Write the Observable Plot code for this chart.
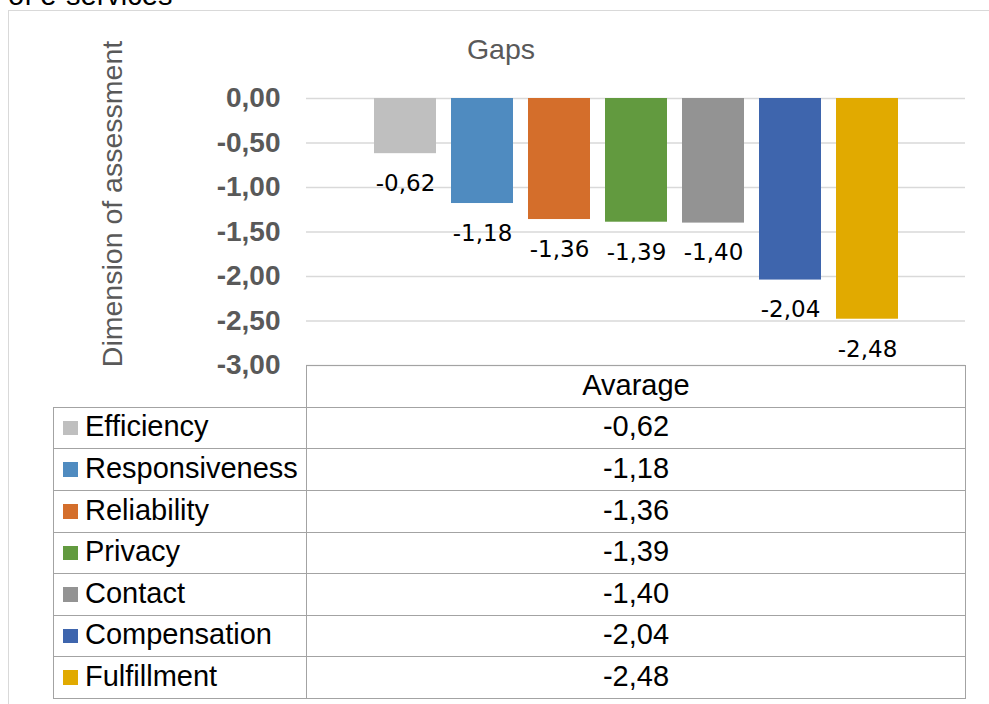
<!DOCTYPE html>
<html><head><meta charset="utf-8">
<script src="https://cdn.jsdelivr.net/npm/d3@7"></script>
<script src="https://cdn.jsdelivr.net/npm/@observablehq/plot@0.6"></script>
<style>
body{margin:0;background:#fff;font-family:"Liberation Sans",Arial,sans-serif;}
#wrap{position:relative;width:989px;height:704px;overflow:hidden;background:#fff;}
#cut{position:absolute;left:8px;top:-19px;font-size:29px;line-height:28px;color:#000;white-space:nowrap;}
#frame{position:absolute;left:8px;top:10px;width:1000px;height:720px;border-left:1.3px solid #d9d9d9;border-top:1.3px solid #d9d9d9;box-sizing:border-box;}
#chart{position:absolute;left:0;top:0;}
#title{position:absolute;left:501px;top:49px;transform:translate(-50%,-50%);font-size:28.5px;line-height:28px;color:#595959;white-space:nowrap;}
#ylab{position:absolute;left:112.3px;top:204px;transform:translate(-50%,-50%) rotate(-90deg);font-size:28.5px;line-height:28px;color:#595959;white-space:nowrap;}
.cell{position:absolute;box-sizing:border-box;border:1px solid #a3a3a3;display:flex;align-items:center;font-size:29px;color:#000;white-space:nowrap;}
.cell span{position:relative;top:-1.5px;}
.val{justify-content:center;}
.sw{position:absolute;left:9px;width:14.7px;height:14.7px;top:50%;margin-top:-7.35px;}
.lab{position:absolute;left:31px;}
</style></head>
<body>
<div id="wrap">
  <div id="cut">of e-services</div>
  <div id="frame"></div>
  <div id="chart"></div>
  <div id="title"></div>
  <div id="ylab"></div>
</div>
<script>
const categories = ["Efficiency","Responsiveness","Reliability","Privacy","Contact","Compensation","Fulfillment"];
const values = [-0.62,-1.18,-1.36,-1.39,-1.40,-2.04,-2.48];
const colors = ["#bfbfbf","#4f8bc0","#d46e2b","#629a3f","#939393","#3e65ad","#e1aa00"];
const yTicks = [0,-0.5,-1,-1.5,-2,-2.5,-3];
const seriesHeader = "Avarage";
const chartTitle = "Gaps";
const yLabel = "Dimension of assessment";

const fmt = v => v.toFixed(2).replace(".", ",");
const data = categories.map((c, i) => ({cat: c, value: values[i], color: colors[i]}));

const chart = Plot.plot({
  width: 989, height: 370,
  marginTop: 98, marginBottom: 5, marginLeft: 306, marginRight: 24,
  style: {fontFamily: "Liberation Sans, Arial, sans-serif", background: "transparent", overflow: "visible"},
  x: {domain: categories, paddingInner: 0.2, paddingOuter: 0.857, axis: null},
  y: {domain: [-3, 0], axis: null},
  color: {domain: categories, range: colors},
  marks: [
    Plot.ruleY(yTicks, {stroke: "#d9d9d9", strokeWidth: 1.5}),
    Plot.barY(data, {x: "cat", y: "value", fill: "cat"}),
    Plot.axisY({ticks: yTicks, tickSize: 0, tickPadding: 26, tickFormat: fmt, fontSize: 28, fontWeight: "bold", color: "#595959", label: null}),
    Plot.text(data, {x: "cat", y: "value", text: d => fmt(d.value), lineAnchor: "top", dy: 21, fontSize: 23, fontFamily: "DejaVu Sans", fill: "#000"})
  ]
});
document.getElementById("chart").appendChild(chart);
document.getElementById("title").textContent = chartTitle;
document.getElementById("ylab").textContent = yLabel;

// data table
const wrap = document.getElementById("wrap");
const tTop = 365, tBottom = 698, lx = 53, mx = 306, rx = 965;
const rowH = (tBottom - tTop) / (categories.length + 1);
const rowY = i => Math.round(tTop + i * rowH);
function cell(x1, x2, i, cls) {
  const d = document.createElement("div");
  d.className = "cell " + (cls || "");
  d.style.left = x1 + "px";
  d.style.top = rowY(i) + "px";
  d.style.width = (x2 - x1 + 1) + "px";
  d.style.height = (rowY(i + 1) - rowY(i) + 1) + "px";
  wrap.appendChild(d);
  return d;
}
const hdr = cell(mx, rx, 0, "val");
const hs = document.createElement("span");
hs.textContent = seriesHeader;
hdr.appendChild(hs);
categories.forEach((c, i) => {
  const l = cell(lx, mx, i + 1);
  const sw = document.createElement("div");
  sw.className = "sw"; sw.style.background = colors[i];
  l.appendChild(sw);
  const t = document.createElement("span");
  t.className = "lab"; t.textContent = c;
  l.appendChild(t);
  const v = cell(mx, rx, i + 1, "val");
  const s = document.createElement("span");
  s.textContent = fmt(values[i]);
  v.appendChild(s);
});
</script>
</body></html>
